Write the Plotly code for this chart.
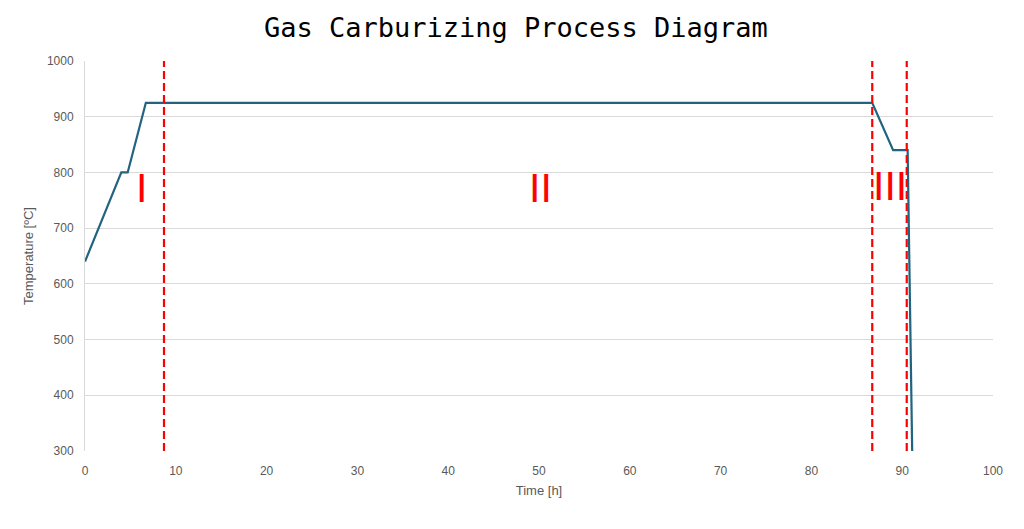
import plotly.graph_objects as go

# process profile
time_h = [0, 4, 4.7, 6.7, 86.7, 89.0, 90.6, 91.1]
temp_c = [640, 800, 800, 925, 925, 840, 840, 300]

# stage boundaries
stage_x = [8.7, 86.7, 90.5]

# stage labels
stage_labels = ["I", "II", "III"]
stage_label_x = [6.2, 50.2, 88.7]
stage_label_y = [772, 772, 775]

line_color = '#22637f'
grey = '#595959'

fig = go.Figure()
fig.add_trace(go.Scatter(x=time_h, y=temp_c, mode='lines',
                         line=dict(color=line_color, width=2.2), showlegend=False))

for xv in stage_x:
    fig.add_shape(type='line', x0=xv, x1=xv, y0=0, y1=1, xref='x', yref='paper',
                  layer='above', opacity=1,
                  line=dict(color='#ff0000', width=2.2, dash='8px,4px'))

for txt, xv, yv in zip(stage_labels, stage_label_x, stage_label_y):
    fig.add_annotation(x=xv, y=yv, text=txt, showarrow=False,
                       font=dict(family='Liberation Sans', size=41, color='#ff0000'))

# page body adds an 8px offset, margins compensate for it
fig.update_layout(
    width=1024, height=529,
    template='simple_white',
    plot_bgcolor='white', paper_bgcolor='white',
    margin=dict(l=77, r=39, t=53, b=86),
    title=dict(text='Gas Carburizing Process Diagram', x=0.496, xanchor='center',
               y=1 - 20 / 529, yanchor='middle',
               font=dict(family='DejaVu Sans Mono', size=27, color='black')),
    font=dict(family='Liberation Sans', size=12, color=grey),
)
fig.update_xaxes(range=[0, 100], dtick=10, showgrid=False, zeroline=False,
                 showline=False, ticks='outside', ticklen=9, tickcolor='rgba(0,0,0,0)',
                 title=dict(text='Time [h]', font=dict(size=13, color=grey), standoff=8),
                 tickfont=dict(color=grey, size=12))
fig.update_yaxes(range=[300, 1000], dtick=100, showgrid=True, gridcolor='#d9d9d9', zeroline=False,
                 showline=True, linecolor='#d9d9d9', ticks='outside', ticklen=8,
                 tickcolor='rgba(0,0,0,0)',
                 title=dict(text='Temperature [ºC]', font=dict(size=13, color=grey), standoff=10),
                 tickfont=dict(color=grey, size=12))

fig.write_html("out.html")
